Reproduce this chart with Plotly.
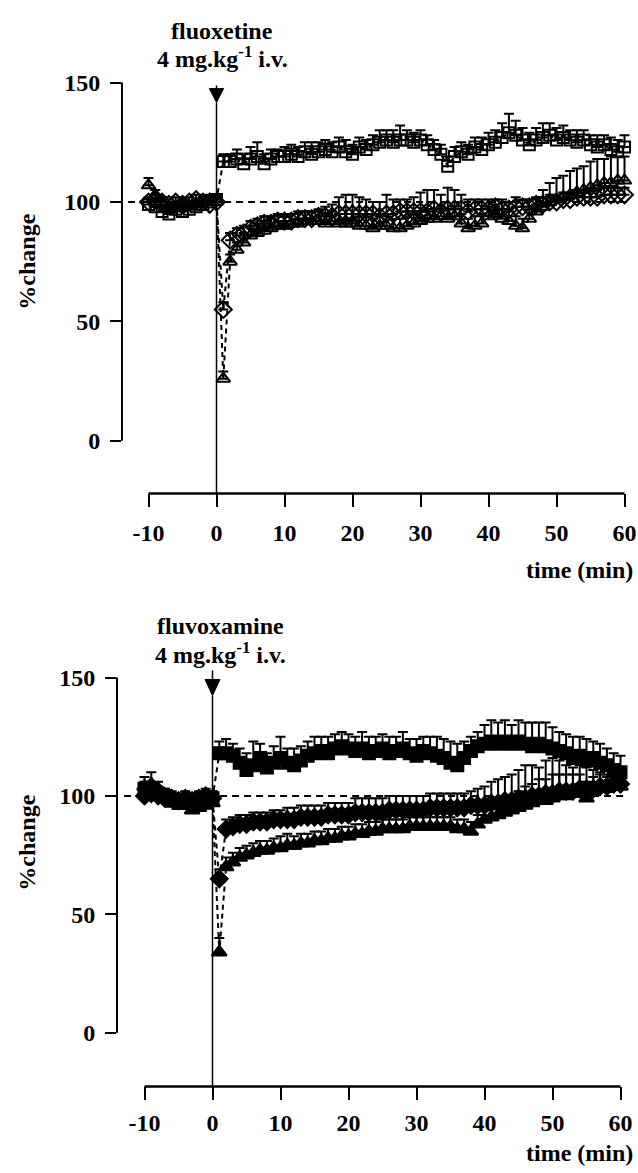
import plotly.graph_objects as go

# ---------------- data ----------------
time_min = [-10, -9, -8, -7, -6, -5, -4, -3, -2, -1, 0,
            1, 2, 3, 4, 5, 6, 7, 8, 9, 10,
            11, 12, 13, 14, 15, 16, 17, 18, 19, 20,
            21, 22, 23, 24, 25, 26, 27, 28, 29, 30,
            31, 32, 33, 34, 35, 36, 37, 38, 39, 40,
            41, 42, 43, 44, 45, 46, 47, 48, 49, 50,
            51, 52, 53, 54, 55, 56, 57, 58, 59, 60]

# fluoxetine panel
fluox_square = [99, 98, 96, 95, 97, 96, 97, 98, 99, 100, 101,
                117, 117, 118, 116, 118, 119, 116, 118, 119, 119,
                120, 119, 121, 120, 121, 122, 121, 123, 121, 120,
                123, 122, 124, 125, 126, 125, 126, 126, 125, 126,
                124, 122, 120, 115, 119, 121, 120, 123, 122, 124,
                125, 127, 129, 128, 126, 124, 126, 127, 128, 126,
                127, 126, 125, 126, 124, 123, 124, 122, 121, 123]
fluox_square_err = [2, 2, 3, 2, 2, 2, 2, 2, 2, 2, 2,
                    3, 3, 4, 4, 5, 6, 4, 4, 3, 4,
                    4, 4, 4, 5, 4, 4, 4, 4, 5, 4,
                    4, 4, 4, 5, 4, 5, 6, 4, 4, 4,
                    4, 4, 4, 4, 4, 4, 4, 4, 5, 5,
                    5, 6, 8, 6, 5, 5, 5, 6, 5, 5,
                    5, 4, 5, 4, 4, 5, 4, 5, 5, 5]
fluox_diamond = [100, 101, 100, 99, 100, 99, 100, 101, 100, 99, 100,
                 55, 84, 86, 87, 89, 90, 91, 91, 92, 92,
                 92, 93, 93, 93, 94, 94, 94, 95, 95, 95,
                 95, 95, 95, 94, 95, 95, 96, 96, 96, 96,
                 96, 97, 96, 97, 97, 97, 96, 97, 97, 97,
                 98, 97, 97, 98, 98, 98, 99, 99, 100, 100,
                 101, 101, 102, 102, 102, 102, 103, 103, 103, 103]
fluox_diamond_err = [2, 2, 2, 2, 2, 2, 2, 2, 2, 2, 2,
                     3, 3, 3, 3, 3, 3, 3, 3, 3, 3,
                     3, 3, 3, 3, 3, 4, 5, 7, 8, 8,
                     7, 6, 5, 6, 8, 6, 5, 5, 6, 8,
                     9, 8, 7, 9, 8, 6, 5, 4, 4, 4,
                     3, 4, 3, 4, 3, 3, 3, 3, 3, 3,
                     3, 3, 3, 3, 3, 3, 3, 3, 3, 3]
fluox_triangle = [107, 103, 100, 97, 98, 99, 98, 99, 100, 101, 101,
                  26, 75, 80, 83, 86, 87, 88, 89, 90, 90,
                  91, 91, 92, 92, 92, 91, 92, 91, 91, 91,
                  90, 90, 89, 90, 90, 89, 89, 90, 91, 92,
                  93, 93, 94, 93, 94, 91, 89, 90, 91, 94,
                  95, 93, 92, 90, 89, 93, 96, 98, 100, 101,
                  102, 103, 104, 105, 106, 107, 108, 108, 109, 109]
fluox_triangle_err = [3, 2, 2, 2, 2, 2, 2, 2, 2, 2, 2,
                      3, 3, 3, 3, 4, 4, 4, 4, 4, 4,
                      4, 4, 4, 4, 4, 4, 4, 4, 4, 4,
                      4, 4, 4, 4, 4, 4, 4, 4, 4, 4,
                      4, 4, 4, 4, 4, 4, 4, 4, 4, 4,
                      4, 4, 4, 4, 4, 4, 5, 7, 8, 9,
                      9, 10, 10, 10, 11, 11, 10, 11, 10, 10]

# fluvoxamine panel
fluvox_square = [103, 102, 101, 100, 98, 97, 97, 98, 97, 98, 99,
                 118, 118, 117, 114, 111, 113, 116, 112, 114, 116,
                 114, 113, 115, 117, 118, 119, 118, 120, 121, 120,
                 119, 120, 118, 119, 120, 118, 119, 120, 118, 117,
                 119, 118, 117, 116, 114, 113, 116, 119, 121, 122,
                 123, 122, 123, 122, 123, 122, 121, 122, 121, 120,
                 119, 118, 116, 117, 115, 116, 114, 113, 111, 110]
fluvox_square_err = [3, 4, 3, 3, 3, 3, 3, 3, 3, 3, 3,
                     5, 6, 5, 6, 7, 10, 6, 6, 7, 9,
                     6, 7, 6, 6, 7, 6, 7, 6, 6, 6,
                     6, 7, 7, 6, 6, 7, 6, 7, 6, 7,
                     6, 7, 8, 8, 9, 9, 7, 6, 6, 8,
                     9, 9, 9, 8, 9, 9, 10, 9, 10, 9,
                     8, 8, 9, 8, 9, 7, 8, 7, 7, 7]
fluvox_diamond = [100, 101, 100, 99, 99, 98, 99, 98, 99, 100, 99,
                  65, 86, 87, 88, 88, 89, 89, 89, 90, 90,
                  90, 90, 91, 91, 91, 91, 92, 92, 92, 92,
                  93, 93, 93, 93, 93, 94, 94, 94, 94, 94,
                  94, 95, 95, 95, 95, 95, 95, 96, 96, 96,
                  97, 97, 98, 98, 99, 99, 100, 100, 101, 101,
                  102, 102, 102, 103, 103, 103, 104, 104, 105, 105]
fluvox_diamond_err = [3, 3, 3, 3, 3, 3, 3, 3, 3, 3, 3,
                      4, 4, 4, 4, 4, 4, 4, 4, 4, 4,
                      5, 5, 5, 5, 5, 5, 5, 5, 5, 5,
                      6, 6, 6, 6, 6, 6, 6, 6, 6, 6,
                      6, 6, 6, 6, 6, 6, 6, 6, 7, 8,
                      9, 10, 10, 11, 12, 14, 13, 12, 14, 15,
                      13, 11, 10, 10, 9, 8, 6, 5, 5, 5]
fluvox_triangle = [104, 105, 103, 100, 98, 97, 96, 94, 95, 96, 97,
                   34, 70, 72, 74, 75, 76, 77, 77, 78, 78,
                   79, 79, 80, 80, 81, 81, 82, 82, 83, 83,
                   84, 84, 85, 85, 86, 86, 86, 86, 87, 87,
                   87, 87, 87, 87, 87, 86, 86, 85, 88, 90,
                   91, 92, 93, 94, 95, 96, 97, 98, 98, 99,
                   100, 100, 101, 101, 99, 102, 103, 103, 104, 104]
fluvox_triangle_err = [4, 5, 3, 3, 3, 3, 3, 3, 3, 3, 3,
                       6, 4, 4, 4, 4, 4, 4, 4, 4, 5,
                       5, 4, 4, 4, 4, 4, 4, 4, 4, 4,
                       4, 4, 4, 4, 4, 4, 4, 4, 4, 4,
                       4, 4, 4, 4, 4, 4, 4, 4, 4, 4,
                       4, 5, 5, 6, 7, 8, 8, 9, 9, 10,
                       9, 9, 8, 8, 7, 6, 6, 5, 5, 5]

x_ticks = [-10, 0, 10, 20, 30, 40, 50, 60]
x_tick_labels = ["-10", "0", "10", "20", "30", "40", "50", "60"]
y_ticks = [0, 50, 100, 150]
y_tick_labels = ["0", "50", "100", "150"]

# ---------------- layout helpers ----------------
W, H = 638, 1173
FONT = "Liberation Serif"


def yfrac(px):
    return 1 - px / H


fig = go.Figure()

panels = [
    ("x", "y",
     [(fluox_square, fluox_square_err, "square-open", 11),
      (fluox_diamond, fluox_diamond_err, "diamond-open", 13),
      (fluox_triangle, fluox_triangle_err, "triangle-up-open", 12)]),
    ("x2", "y2",
     [(fluvox_square, fluvox_square_err, "square", 12),
      (fluvox_diamond, fluvox_diamond_err, "diamond", 13),
      (fluvox_triangle, fluvox_triangle_err, "triangle-up", 13)]),
]

for xa, ya, series in panels:
    for vals, err, sym, size in series:
        fig.add_trace(go.Scatter(
            x=time_min, y=vals, xaxis=xa, yaxis=ya,
            mode="lines+markers",
            line=dict(color="black", width=2, dash="5px,4px"),
            marker=dict(symbol=sym, size=size, color="black",
                        line=dict(color="black", width=2)),
            error_y=dict(type="data", symmetric=False, array=err,
                         arrayminus=[0] * len(err), color="black",
                         thickness=2, width=5),
            showlegend=False, hoverinfo="skip"))

tickfont = dict(family=FONT, size=24, color="black", weight="bold")

common_x = dict(tickvals=x_ticks, ticktext=x_tick_labels, ticks="outside",
                ticklen=13, tickwidth=2, tickcolor="black", showline=False,
                showgrid=False, zeroline=False, tickfont=tickfont)
common_y = dict(tickvals=y_ticks, ticktext=y_tick_labels, ticks="outside",
                ticklen=11, tickwidth=2, tickcolor="black", showline=False,
                showgrid=False, zeroline=False, tickfont=tickfont,
                ticklabelstandoff=5)

# panel geometry (pixels)
top_left_px, top_x0, sx = 122, 216.5, 6.8
bot_left_px, bot_x0 = 117, 212.5
top_y0, sy1 = 437, 2.4
bot_y0, sy2 = 1032, 2.38
top_ax_px, bot_ax_px = 490, 1086
top_top_px, bot_top_px = 70, 662

fig.update_layout(
    width=W, height=H,
    margin=dict(l=0, r=0, t=0, b=0),
    paper_bgcolor="white", plot_bgcolor="white",
    xaxis=dict(domain=[top_left_px / W, 1],
               range=[(top_left_px - top_x0) / sx, (W - top_x0) / sx],
               anchor="y", ticklabelstandoff=5, **common_x),
    yaxis=dict(domain=[yfrac(top_ax_px), yfrac(top_top_px)],
               range=[(top_y0 - top_ax_px) / sy1, (top_y0 - top_top_px) / sy1],
               anchor="x", **common_y),
    xaxis2=dict(domain=[bot_left_px / W, 1],
                range=[(bot_left_px - bot_x0) / sx, (W - bot_x0) / sx],
                anchor="y2", ticklabelstandoff=2, **common_x),
    yaxis2=dict(domain=[yfrac(bot_ax_px), yfrac(bot_top_px)],
                range=[(bot_y0 - bot_ax_px) / sy2, (bot_y0 - bot_top_px) / sy2],
                anchor="x2", **common_y),
)

shapes = []
for xa, ya, tip, head_top, stem_top, hw in [("x", "y", 141.7, 147.5, 148.8, 1.05),
                                           ("x2", "y2", 142.4, 149.2, 153.0, 1.1)]:
    shapes.append(dict(type="line", xref=f"{xa} domain", yref=ya,
                       x0=0, x1=0, y0=0, y1=150,
                       line=dict(color="black", width=2)))
    shapes.append(dict(type="line", xref=xa, yref=f"{ya} domain",
                       x0=-10, x1=60, y0=0, y1=0,
                       line=dict(color="black", width=2.5)))
    shapes.append(dict(type="line", xref=xa, yref=ya,
                       x0=-13, x1=61, y0=100, y1=100,
                       line=dict(color="black", width=2, dash="7px,5px"),
                       layer="below"))
    shapes.append(dict(type="line", xref=xa, yref=ya,
                       x0=0, x1=0, y0=-30, y1=tip,
                       line=dict(color="black", width=1.5)))
    shapes.append(dict(type="path", xref=xa, yref=ya,
                       path=f"M {-hw},{head_top} L {hw},{head_top} L 0,{tip} Z",
                       fillcolor="black", line=dict(color="black", width=1)))
    shapes.append(dict(type="line", xref=xa, yref=ya,
                       x0=0, x1=0, y0=head_top, y1=stem_top,
                       line=dict(color="black", width=1.5)))
fig.update_layout(shapes=shapes)

afont = dict(family=FONT, size=24, color="black", weight="bold")
ann = []
for name, x_c, y1_px, y2_px in [("fluoxetine", 222, 25, 51),
                                ("fluvoxamine", 220, 623, 650)]:
    ann.append(dict(text=name, xref="paper", yref="paper",
                    x=x_c / W, y=yfrac(y1_px), xanchor="center", yanchor="middle",
                    showarrow=False, font=afont))
    ann.append(dict(text="4 mg.kg<sup>-1</sup> i.v.", xref="paper", yref="paper",
                    x=x_c / W, y=yfrac(y2_px), xanchor="center", yanchor="middle",
                    showarrow=False, font=afont))
for y_px in (567, 1153):
    ann.append(dict(text="time (min)", xref="paper", yref="paper",
                    x=635 / W, y=yfrac(y_px), xanchor="right", yanchor="middle",
                    showarrow=False, font=afont))
for y_px in (257, 841):
    ann.append(dict(text="%change", xref="paper", yref="paper",
                    x=27 / W, y=yfrac(y_px), xanchor="center", yanchor="middle",
                    textangle=-90, showarrow=False, font=afont))
fig.update_layout(annotations=ann)

fig.write_html(
    "out.html",
    config={"displayModeBar": False, "staticPlot": True},
    post_script="document.body.style.margin='0';"
                "document.body.style.padding='0';"
                "document.body.style.overflow='hidden';",
)
